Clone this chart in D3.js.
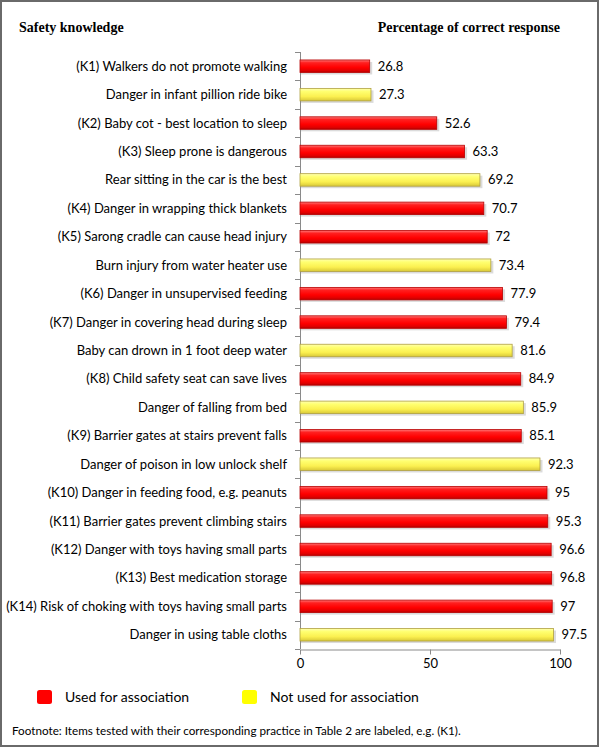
<!DOCTYPE html>
<html>
<head>
<meta charset="utf-8">
<script src="https://cdn.jsdelivr.net/npm/d3@7"></script>
<style>
body{margin:0;padding:0;background:#fff;}
svg{display:block;}
</style>
</head>
<body>
<script>
const categories = [
 "(K1) Walkers do not promote walking",
 "Danger in infant pillion ride bike",
 "(K2) Baby cot - best location to sleep",
 "(K3) Sleep prone is dangerous",
 "Rear sitting in the car is the best",
 "(K4) Danger in wrapping thick blankets",
 "(K5) Sarong cradle can cause head injury",
 "Burn injury from water heater use",
 "(K6) Danger in unsupervised feeding ",
 "(K7) Danger in covering head during sleep",
 "Baby can drown in 1 foot deep water",
 "(K8) Child safety seat can save lives",
 "Danger of falling from bed",
 "(K9) Barrier gates at stairs prevent falls",
 "Danger of poison in low unlock shelf",
 "(K10) Danger in feeding food, e.g. peanuts",
 "(K11) Barrier gates prevent climbing stairs",
 "(K12) Danger with toys having small parts",
 "(K13) Best medication storage",
 "(K14) Risk of choking with toys having small parts",
 "Danger in using table cloths"
];
const values = [26.8, 27.3, 52.6, 63.3, 69.2, 70.7, 72, 73.4, 77.9, 79.4, 81.6, 84.9, 85.9, 85.1, 92.3, 95, 95.3, 96.6, 96.8, 97, 97.5];
const usedForAssociation = [true, false, true, true, false, true, true, false, true, true, false, true, false, true, false, true, true, true, true, true, false];
const xTicks = [0, 50, 100];
const legendLabels = ["Used for association", "Not used for association"];
const titleLeft = "Safety knowledge";
const titleRight = "Percentage of correct response";
const footnote = "Footnote: Items tested with their corresponding practice in Table 2 are labeled, e.g. (K1).";

const W = 600, H = 748;
const svg = d3.select("body").append("svg").attr("width", W).attr("height", H);
const defs = svg.append("defs");

const gRed = defs.append("linearGradient").attr("id","gRed").attr("x1",0).attr("y1",0).attr("x2",0).attr("y2",1);
[["0%","#ff7a7a"],["22%","#ff2020"],["60%","#ff0000"],["85%","#e00000"],["100%","#b00000"]].forEach(s=>gRed.append("stop").attr("offset",s[0]).attr("stop-color",s[1]));
const gYel = defs.append("linearGradient").attr("id","gYel").attr("x1",0).attr("y1",0).attr("x2",0).attr("y2",1);
[["0%","#ffffb0"],["25%","#ffff70"],["65%","#fbf050"],["100%","#d8c838"]].forEach(s=>gYel.append("stop").attr("offset",s[0]).attr("stop-color",s[1]));

const labelFont = "Lato, 'Open Sans', sans-serif";
const serifFont = "'Liberation Serif', 'Times New Roman', serif";

const x = d3.scaleLinear().domain([0,100]).range([300,560]);
const y = d3.scaleBand().domain(categories).range([52,649]).paddingInner(0.56).paddingOuter(0.28);

// border
svg.append("rect").attr("x",1).attr("y",1).attr("width",W-3).attr("height",H-3)
  .attr("fill","none").attr("stroke","#6a6a6a").attr("stroke-width",2);

// titles
svg.append("text").attr("x",19).attr("y",32).text(titleLeft)
  .attr("font-family",serifFont).attr("font-weight","bold").attr("font-size",14).attr("fill","#000");
svg.append("text").attr("x",560).attr("y",32).attr("text-anchor","end").text(titleRight)
  .attr("font-family",serifFont).attr("font-weight","bold").attr("font-size",14).attr("fill","#000");

// y axis (category boundary ticks)
const yStart = 52;
const gy = svg.append("g");
gy.append("line").attr("x1",300.5).attr("x2",300.5).attr("y1",yStart).attr("y2",649).attr("stroke","#8a8a8a").attr("stroke-width",1);
d3.range(categories.length+1).forEach(i=>{
  const yy = Math.round(yStart + i*(597/categories.length))+0.5;
  gy.append("line").attr("x1",295).attr("x2",300).attr("y1",yy).attr("y2",yy).attr("stroke","#8a8a8a");
});

// x axis
const xAxis = d3.axisBottom(x).tickValues(xTicks).tickSize(5).tickSizeOuter(0);
const gx = svg.append("g").attr("transform","translate(0,649.5)").call(xAxis);
gx.select(".domain").attr("stroke","#8a8a8a");
gx.selectAll(".tick line").attr("stroke","#8a8a8a");
gx.selectAll(".tick text").attr("font-family",labelFont).attr("font-size",13).attr("fill","#000").attr("dy","0.9em").attr("y",7);

// category labels
svg.append("g").selectAll("text").data(categories).join("text")
  .attr("x",287).attr("y",d=>y(d)+y.bandwidth()/2).attr("dy","0.35em")
  .attr("text-anchor","end").attr("font-family",labelFont).attr("font-size",13).attr("fill","#000")
  .text(d=>d);

// shadows
svg.append("g").selectAll("rect").data(categories).join("rect")
  .attr("x",x(0)+1).attr("y",d=>y(d)+2).attr("width",(d,i)=>x(values[i])-x(0)+1.5).attr("height",y.bandwidth())
  .attr("fill","#999").attr("opacity",0.35);

// bars
svg.append("g").selectAll("rect").data(categories).join("rect")
  .attr("x",x(0)).attr("y",d=>y(d)).attr("width",(d,i)=>x(values[i])-x(0)).attr("height",y.bandwidth())
  .attr("fill",(d,i)=>usedForAssociation[i]?"url(#gRed)":"url(#gYel)")
  .attr("stroke",(d,i)=>usedForAssociation[i]?"#b80000":"#b0a040").attr("stroke-width",0.8);

// value labels
svg.append("g").selectAll("text").data(categories).join("text")
  .attr("x",(d,i)=>x(values[i])+8).attr("y",d=>y(d)+y.bandwidth()/2).attr("dy","0.35em")
  .attr("font-family",labelFont).attr("font-size",13).attr("fill","#000")
  .text((d,i)=>values[i]);

// legend
const legColors = ["#ff0000","#ffff00"];
const legX = [37, 242];
legendLabels.forEach((l,i)=>{
  svg.append("rect").attr("x",legX[i]).attr("y",690).attr("width",15).attr("height",14).attr("rx",2.5)
    .attr("fill",legColors[i]);
  svg.append("text").attr("x",legX[i]+28).attr("y",697).attr("dy","0.35em")
    .attr("font-family",labelFont).attr("font-size",14).attr("fill","#000").text(l);
});

// footnote
svg.append("text").attr("x",12).attr("y",731).attr("dy","0.35em")
  .attr("font-family",labelFont).attr("font-size",11.7).attr("fill","#000").text(footnote);
</script>
</body>
</html>
